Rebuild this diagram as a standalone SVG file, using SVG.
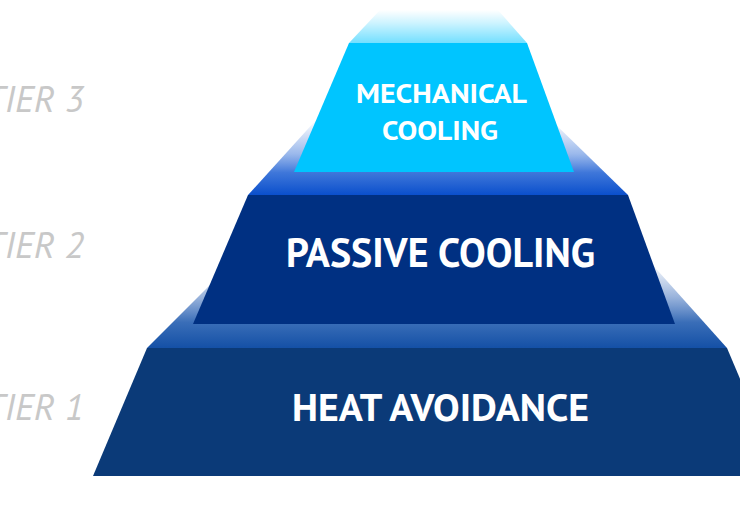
<svg xmlns="http://www.w3.org/2000/svg" width="740" height="510" viewBox="0 0 740 510">
  <defs>
    <linearGradient id="faceTop" x1="0" y1="0" x2="0" y2="1">
      <stop offset="0" stop-color="#00C5FF" stop-opacity="0"/>
      <stop offset="0.4" stop-color="#00C5FF" stop-opacity="0.2"/>
      <stop offset="1" stop-color="#00C5FF" stop-opacity="0.55"/>
    </linearGradient>
    <linearGradient id="faceMid" x1="0" y1="0" x2="0" y2="1">
      <stop offset="0" stop-color="#4a80dc" stop-opacity="0"/>
      <stop offset="0.45" stop-color="#4a80dc" stop-opacity="0.55"/>
      <stop offset="0.7" stop-color="#3570d8" stop-opacity="0.95"/>
      <stop offset="1" stop-color="#0a4fcc"/>
    </linearGradient>
    <linearGradient id="faceBot" x1="0" y1="0" x2="0" y2="1">
      <stop offset="0" stop-color="#4a78c0" stop-opacity="0"/>
      <stop offset="0.4" stop-color="#4a78c0" stop-opacity="0.55"/>
      <stop offset="0.7" stop-color="#3a6eb8"/>
      <stop offset="1" stop-color="#1450a6"/>
    </linearGradient>
  </defs>
  <style>
    .lbl { fill: #ffffff; font-family: "PT Sans", "Lato", "Open Sans", sans-serif; font-weight: 700; text-anchor: middle; }
    .tier { fill: #c8c8c8; font-family: "PT Sans", "Lato", "Open Sans", sans-serif; font-style: italic; font-weight: 300; font-size: 37px; text-anchor: end; }
  </style>

  <g id="tier-labels">
    <text class="tier" x="84" y="112">TIER 3</text>
    <text class="tier" x="84" y="258">TIER 2</text>
    <text class="tier" x="84" y="420">TIER 1</text>
  </g>

  <g id="heat-avoidance">
    <polygon points="233,262 650,262 727,348 147,348" fill="url(#faceBot)"/>
    <polygon points="147,348 727,348 781,476 93,476" fill="#0b3a78"/>
    <text class="lbl" x="440.5" y="421" font-size="39" textLength="297" lengthAdjust="spacingAndGlyphs">HEAT AVOIDANCE</text>
  </g>

  <g id="passive-cooling">
    <polygon points="316,120 551,120 628,195 248,195" fill="url(#faceMid)"/>
    <polygon points="248,195 628,195 675,324 193,324" fill="#003082"/>
    <text class="lbl" x="440.5" y="267" font-size="40" textLength="309" lengthAdjust="spacingAndGlyphs">PASSIVE COOLING</text>
  </g>

  <g id="mechanical-cooling">
    <polygon points="380,10 498,10 527,43 349,43" fill="url(#faceTop)"/>
    <polygon points="349,43 527,43 574,172 294,172" fill="#00c5ff"/>
    <text class="lbl" x="441.5" y="103" font-size="27" textLength="171" lengthAdjust="spacingAndGlyphs">MECHANICAL</text>
    <text class="lbl" x="440" y="140" font-size="27" textLength="116" lengthAdjust="spacingAndGlyphs">COOLING</text>
  </g>

  <g id="connectors"></g>
</svg>
